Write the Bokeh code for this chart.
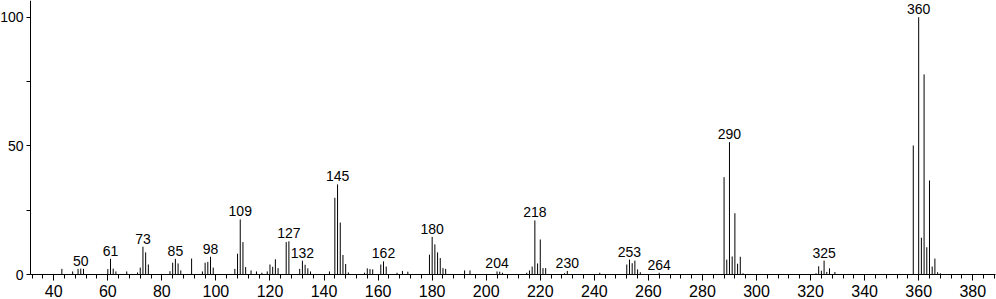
from bokeh.plotting import figure
from bokeh.models import FixedTicker, Range1d, ColumnDataSource
from bokeh.core.properties import value
from bokeh.embed import file_html
from bokeh.resources import INLINE

# m/z values and relative intensities (%)
mz = [43, 47, 49, 50, 51, 60, 61, 62, 63, 67, 71, 72, 73, 74, 75,
      83, 84, 85, 86, 87, 91, 95, 96, 97, 98, 99,
      107, 108, 109, 110, 111, 113, 115, 117, 119, 120, 121, 122, 123,
      126, 127, 131, 132, 133, 134, 135, 142, 144, 145, 146, 147, 148, 149,
      155, 156, 157, 158, 161, 162, 163, 167, 169, 171,
      179, 180, 181, 182, 183, 184, 185, 192, 194, 204, 205, 206,
      215, 216, 217, 218, 219, 220, 221, 222, 229, 230, 242,
      252, 253, 254, 255, 256, 257, 264,
      288, 289, 290, 291, 292, 293, 294, 295,
      322, 323, 324, 325, 326, 327, 329,
      358, 360, 361, 362, 363, 364, 365, 366, 367, 368]
intensity = [2.3, 1.3, 2.3, 2.4, 2.3, 2.2, 6.2, 2.4, 1.3, 1.3, 0.9, 2.8, 10.9, 8.7, 4.0,
             1.4, 4.7, 6.2, 4.4, 1.7, 6.3, 1.3, 4.7, 5.0, 7.0, 2.8,
             2.3, 8.2, 21.5, 12.7, 3.0, 1.7, 1.3, 0.8, 1.3, 4.0, 3.1, 6.0, 2.6,
             12.7, 13.0, 2.3, 5.5, 3.9, 2.5, 1.3, 1.3, 29.9, 35.1, 20.3, 7.7, 4.2, 0.9,
             0.8, 2.5, 2.2, 2.1, 4.0, 5.2, 3.2, 0.8, 1.5, 1.2,
             7.8, 14.7, 11.8, 8.7, 6.5, 2.6, 2.3, 1.7, 1.7, 1.3, 1.2, 0.8,
             0.8, 1.7, 3.2, 21.1, 4.4, 13.7, 2.6, 2.6, 0.6, 1.5, 0.8,
             4.0, 5.9, 4.5, 5.5, 2.1, 1.0, 0.8,
             37.9, 5.9, 51.5, 7.1, 23.9, 4.3, 7.0, 0.6,
             0.6, 3.3, 1.6, 5.5, 1.1, 2.5, 1.1,
             50.2, 100.0, 14.4, 77.8, 10.7, 36.6, 3.2, 6.3, 1.0, 0.6]

# annotated peaks
labelled_mz = [50, 61, 73, 85, 98, 109, 127, 132, 145, 162, 180, 204, 218,
               230, 253, 264, 290, 325, 360]

x_ticks = list(range(40, 381, 20))
x_minor = list(range(32, 389, 4))
y_ticks = [0, 50, 100]
y_minor = [25, 75]

# visible axis extents (data units)
X_AXIS = (31.4, 388.4)
Y_AXIS = (0, 106.48)
# whole-canvas view range (axes sit inside it at fixed locations)
X_VIEW = (20.3, 388.79)
Y_VIEW = (-9.59, 106.48)

lookup = dict(zip(mz, intensity))
peaks = ColumnDataSource(dict(x=mz, y0=[0] * len(mz), y1=intensity))
labels = ColumnDataSource(dict(x=labelled_mz,
                               y=[lookup[m] for m in labelled_mz],
                               t=[str(m) for m in labelled_mz]))

p = figure(width=996, height=299, output_backend="svg", toolbar_location=None,
           x_range=Range1d(*X_VIEW), y_range=Range1d(*Y_VIEW),
           min_border_left=0, min_border_right=0, min_border_top=0,
           min_border_bottom=0)
p.outline_line_color = None
p.xgrid.visible = False
p.ygrid.visible = False
p.background_fill_color = "white"
p.border_fill_color = "white"

p.segment(x0="x", y0="y0", x1="x", y1="y1", source=peaks,
          line_color="black", line_width=1)
p.text(x="x", y="y", text="t", source=labels, text_align="center",
       text_baseline="middle", y_offset=-8,
       text_font=value("Liberation Sans"), text_font_size="14px",
       text_color="black")

xa = p.xaxis[0]
xa.fixed_location = Y_AXIS[0]
xa.bounds = X_AXIS
xa.ticker = FixedTicker(ticks=x_ticks, minor_ticks=x_minor)
xa.major_tick_out = 6
xa.major_tick_in = 0
xa.minor_tick_out = 4
xa.minor_tick_in = 0
xa.major_label_standoff = 4
xa.major_label_text_font = "Liberation Sans"
xa.major_label_text_font_size = "16px"
xa.major_label_text_color = "black"
xa.axis_line_color = "black"
xa.major_tick_line_color = "black"
xa.minor_tick_line_color = "black"

ya = p.yaxis[0]
ya.fixed_location = X_AXIS[0]
ya.bounds = Y_AXIS
ya.ticker = FixedTicker(ticks=y_ticks, minor_ticks=y_minor)
ya.major_tick_out = 4
ya.major_tick_in = 0
ya.minor_tick_out = 4
ya.minor_tick_in = 0
ya.major_label_standoff = 3
ya.major_label_text_font = "Liberation Sans"
ya.major_label_text_font_size = "14px"
ya.major_label_text_color = "black"
ya.axis_line_color = "black"
ya.major_tick_line_color = "black"
ya.minor_tick_line_color = "black"

open("out.html", "w").write(file_html(p, INLINE))
